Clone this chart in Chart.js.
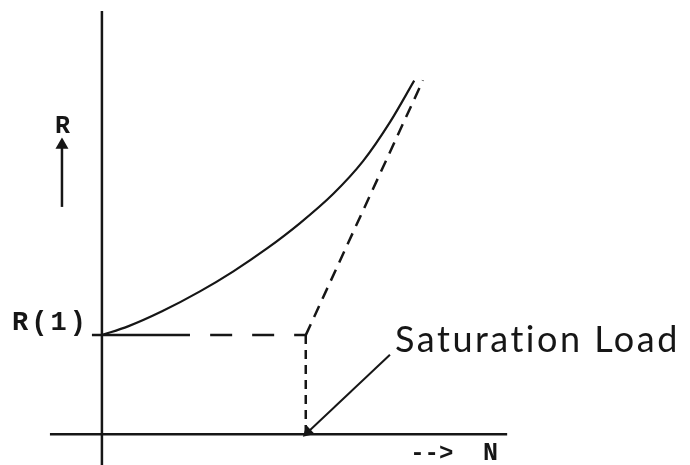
<!DOCTYPE html>
<html>
<head>
<meta charset="utf-8">
<script src="https://cdn.jsdelivr.net/npm/chart.js@4.4.1/dist/chart.umd.min.js"></script>
<style>
  html, body { margin: 0; padding: 0; background: #fff; }
  canvas { display: block; }
</style>
</head>
<body>
<canvas id="chart" width="690" height="465"></canvas>
<script>
// --- Data (N along x, R along y; saturation load at N = 1, R(1) = 1) ---
const curveN = [0, 0.128, 0.295, 0.481, 0.643, 0.810, 0.972, 1.134, 1.281, 1.414, 1.532];
const curveR = [1.0, 1.088, 1.240, 1.441, 1.641, 1.874, 2.130, 2.423, 2.755, 3.151, 3.567];

const satN = 1.0;          // saturation load
const r1 = 1.0;            // R(1)
const asymptoteEnd = [1.575, 3.57];

const xAxisLine = [[-0.255, 0], [1.988, 0]];
const yAxisLine = [[0, -0.31], [0, 4.27]];
const r1Solid = [[-0.049, r1], [0.432, r1]];
const r1Dashed = [[0.531, r1], [satN, r1]];
const dropLine = [[satN, r1], [satN, 0]];
const satArrow = [[1.413, 0.801], [1.011, 0.023]];
const rArrow = [[-0.196, 2.293], [-0.196, 2.918]];

// --- Text labels ---
const labels = [
  { text: 'R', x: -0.193, y: 3.039, font: 'bold 25px "Liberation Mono"', align: 'center', spacing: 0 },
  { text: 'R(1)', x: -0.441, y: 1.052, font: 'bold 27px "Liberation Mono"', align: 'left', spacing: 3 },
  { text: '-->', x: 1.512, y: -0.259, font: 'bold 24px "Liberation Mono"', align: 'left', spacing: 0 },
  { text: 'N', x: 1.870, y: -0.259, font: 'bold 25px "Liberation Mono"', align: 'left', spacing: 0 },
  { text: 'Saturation Load', x: 1.438, y: 0.83, font: '36px Lato', align: 'left', spacing: 2.5 }
];

const toPts = arr => arr.map(p => ({ x: p[0], y: p[1] }));
const ink = '#161616';

function lineSet(points, width, dash, extra) {
  return Object.assign({
    data: toPts(points),
    showLine: true,
    borderColor: ink,
    borderWidth: width,
    borderDash: dash || [],
    pointRadius: 0,
    fill: false
  }, extra || {});
}

const textPlugin = {
  id: 'textLabels',
  afterDatasetsDraw(chart) {
    const c = chart.ctx;
    const xs = chart.scales.x, ys = chart.scales.y;
    c.save();
    c.fillStyle = ink;
    c.textBaseline = 'alphabetic';
    labels.forEach(l => {
      c.font = l.font;
      c.letterSpacing = l.spacing + 'px';
      c.textAlign = l.align;
      c.fillText(l.text, xs.getPixelForValue(l.x), ys.getPixelForValue(l.y));
    });
    c.restore();
  }
};

new Chart(document.getElementById('chart'), {
  type: 'scatter',
  data: {
    datasets: [
      lineSet(xAxisLine, 2.5),
      lineSet(yAxisLine, 2.5),
      lineSet(r1Solid, 2.5),
      lineSet(r1Dashed, 2.5, [22, 20]),
      lineSet(dropLine, 2.5, [9, 6]),
      lineSet([[satN, r1], asymptoteEnd], 2.5, [12, 8]),
      {
        data: curveN.map((n, i) => ({ x: n, y: curveR[i] })),
        showLine: true,
        borderColor: ink,
        borderWidth: 2.2,
        pointRadius: 0,
        cubicInterpolationMode: 'monotone',
        fill: false
      },
      lineSet(satArrow, 2, [], {
        pointRadius: [0, 5],
        pointStyle: 'triangle',
        rotation: [0, 227],
        pointBackgroundColor: ink,
        pointBorderColor: ink
      }),
      lineSet(rArrow, 2.5, [], {
        pointRadius: [0, 5],
        pointStyle: 'triangle',
        pointBackgroundColor: ink,
        pointBorderColor: ink
      })
    ]
  },
  options: {
    responsive: false,
    animation: false,
    layout: { padding: 0, autoPadding: false },
    plugins: {
      legend: { display: false },
      tooltip: { enabled: false }
    },
    scales: {
      x: { type: 'linear', min: -0.5, max: 2.885, display: false },
      y: { type: 'linear', min: -0.31, max: 4.38, display: false }
    }
  },
  plugins: [textPlugin]
});
</script>
</body>
</html>
